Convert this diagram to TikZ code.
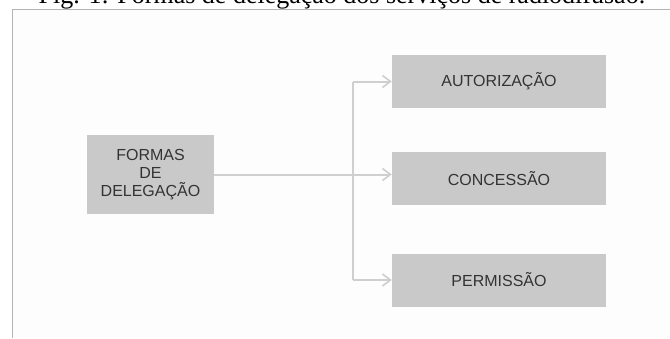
\documentclass[tikz,border=0pt]{standalone}
\usepackage{fontspec}
\setmainfont{Liberation Sans}
\newfontfamily\captionfont{Liberation Serif}
\usetikzlibrary{arrows.meta}

\definecolor{boxgray}{HTML}{C9C9C9}
\definecolor{linkgray}{HTML}{CFCFCF}
\definecolor{textgray}{HTML}{333333}
\definecolor{framegray}{HTML}{B4B4B4}
\definecolor{paper}{HTML}{FDFDFD}

\tikzset{
  box/.style={fill=boxgray,text=textgray,align=center,inner sep=0pt,
    font=\fontsize{16}{18}\selectfont},
  link/.style={draw=linkgray,line width=2pt},
  tolink/.style={link,-{Straight Barb[length=8pt,width=12pt,line width=1.6pt]}}
}

\begin{document}
\begin{tikzpicture}[x=1pt,y=-1pt]
  \useasboundingbox (0,0) rectangle (670,338);
  % caption, cut off at the top
  \node[anchor=base,inner sep=0pt,font=\captionfont\fontsize{26}{28}\selectfont] (caption) at (342,3)
    {Fig. 1: Formas de delegação dos serviços de radiodifusão.};
  % frame
  \fill[paper] (12,9.5) rectangle (670,338);
  \draw[framegray,line width=1pt] (12,338) -- (12,9.5) -- (670,9.5);

  \node[box,minimum width=127,minimum height=79] (formas) at (150.5,174.5) {FORMAS\\DE\\DELEGAÇÃO};
  \begin{scope}[every node/.style={box,minimum width=214,minimum height=53}]
    \node (autorizacao) at (499,81.5) {AUTORIZAÇÃO};
    \node (concessao) at (499,178.5) {CONCESSÃO};
    \node (permissao) at (499,280) {PERMISSÃO};
  \end{scope}

  \coordinate (split) at (353,174.5);
  \draw[link] (split |- autorizacao) -- (split |- permissao);
  \draw[tolink] (split |- autorizacao) -- (autorizacao.west);
  \draw[tolink] (split |- permissao) -- (permissao.west);
  \draw[tolink] (formas.east) -- (formas.east -| concessao.west);
\end{tikzpicture}
\end{document}
